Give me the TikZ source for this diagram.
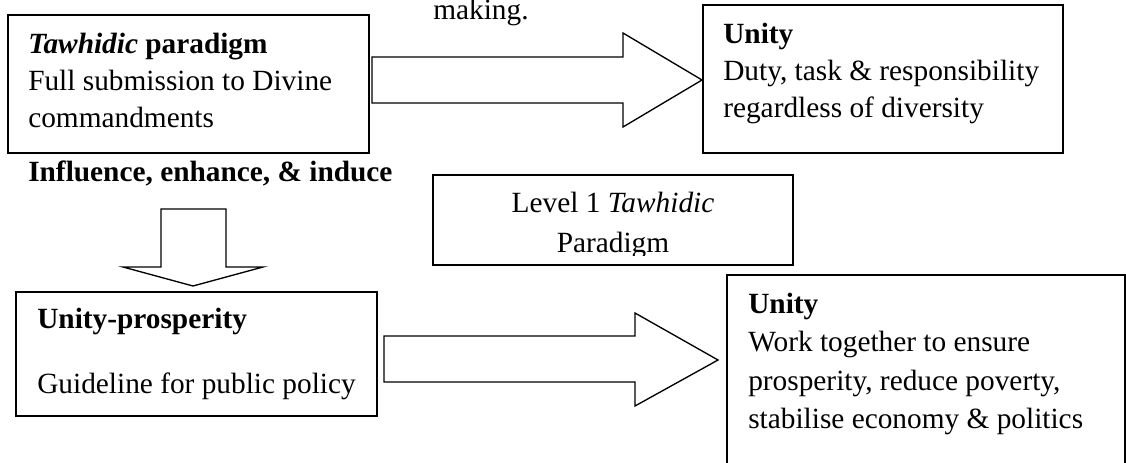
\documentclass[tikz,border=0pt]{standalone}
\usepackage{fontspec}
\setmainfont{Liberation Serif}
\begin{document}
\begin{tikzpicture}[x=0.75pt,y=-0.75pt,
  box/.style={draw=black,line width=1pt},
  blockarrow/.style={draw=black,line width=1pt,fill=white,line join=miter},
  txt/.style={inner sep=0pt,anchor=base west,font=\fontsize{22}{26}\selectfont},
  ctxt/.style={inner sep=0pt,anchor=base,font=\fontsize{22}{26}\selectfont}]
\useasboundingbox (0,0) rectangle (1126,463);

% boxes
\draw[box] (8,15) rectangle (369,153);
\draw[box] (703,5) rectangle (1063,153);
\draw[box] (433,175) rectangle (793,265);
\draw[box] (16,292) rectangle (377,416);
\draw[box] (727,275) rectangle (1125,490);

% block arrows
\draw[blockarrow] (372,57) -- (623,57) -- (623,33) -- (702,80) -- (623,127) -- (623,103) -- (372,103) -- cycle;
\draw[blockarrow] (161,209) -- (226,209) -- (226,267) -- (263,267) -- (193,286) -- (123,267) -- (161,267) -- cycle;
\draw[blockarrow] (384,336) -- (635,336) -- (635,313) -- (718,360) -- (635,406) -- (635,382) -- (384,382) -- cycle;

% texts
\node[txt] (making) at (433,20) {making.};
\node[txt] (a1) at (28,54) {\textbf{\textit{Tawhidic} paradigm}};
\node[txt] (a2) at (28,91) {Full submission to Divine};
\node[txt] (a3) at (28,128) {commandments};
\node[txt] (b1) at (723,44) {\textbf{Unity}};
\node[txt] (b2) at (723,81) {Duty, task \& responsibility};
\node[txt] (b3) at (723,118) {regardless of diversity};
\node[txt] (infl) at (28,182) {\textbf{Influence, enhance, \& induce}};
\begin{scope}
  \clip (433,175) rectangle (793,255);
  \node[ctxt] (c1) at (613,213) {Level 1 \textit{Tawhidic}};
  \node[ctxt] (c2) at (613,252) {Paradigm};
\end{scope}
\node[txt] (d1) at (37,328) {\textbf{Unity-prosperity}};
\node[txt] (d2) at (37,393) {Guideline for public policy};
\node[txt] (e1) at (748,313) {\textbf{Unity}};
\node[txt] (e2) at (748,351.5) {Work together to ensure};
\node[txt] (e3) at (748,390) {prosperity, reduce poverty,};
\node[txt] (e4) at (748,428.5) {stabilise economy \& politics};
\end{tikzpicture}
\end{document}
